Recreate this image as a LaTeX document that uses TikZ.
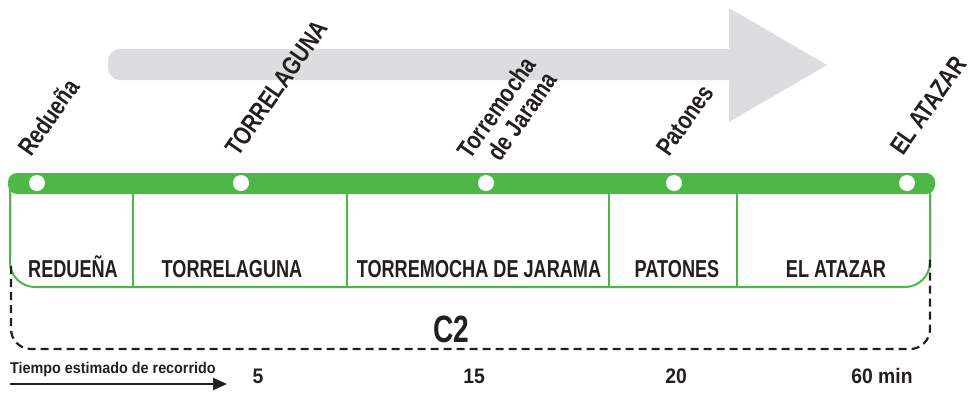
\documentclass[tikz,border=0pt]{standalone}
\usepackage{fontspec}
\setmainfont{Liberation Sans}
\newfontfamily\condfont[FakeStretch=0.74]{Liberation Sans}
\newfontfamily\stopfont[FakeStretch=0.8]{Liberation Sans}
\newfontfamily\narrowfont[FakeStretch=0.92]{Liberation Sans}
\usetikzlibrary{arrows.meta}
\definecolor{linegreen}{RGB}{77,184,72}
\definecolor{arrowgray}{RGB}{220,221,223}
\definecolor{inkdark}{RGB}{35,31,32}

\begin{document}
\begin{tikzpicture}[x=1pt,y=-1pt,
	stoplabel/.style={rotate=55,anchor=base west,inner sep=0pt,text=inkdark,font=\stopfont\bfseries\fontsize{25.5}{26}\selectfont},
	celllabel/.style={anchor=base,inner sep=0pt,text=inkdark,font=\condfont\bfseries\fontsize{24.5}{26}\selectfont},
	timelabel/.style={anchor=base,inner sep=0pt,text=inkdark,font=\narrowfont\bfseries\fontsize{21}{23}\selectfont}]
			%%%%% START %%%%%
			\useasboundingbox (0,0) rectangle (980,394);
			
			% direction arrow
			\fill[arrowgray] (729,49) [rounded corners=12pt] -- (108,49) -- (108,80) [sharp corners] -- (729,80) -- (729,122) -- (827,65) -- (729,8) -- cycle;
			
			% stops on the line
			\coordinate (redu) at (37,183);
			\coordinate (torr) at (241,183);
			\coordinate (tmoc) at (486,183);
			\coordinate (pato) at (674,183);
			\coordinate (ataz) at (907,183);
			
			% cells
			\draw[linegreen, line width=2pt, rounded corners=25pt] (10,188) -- (10,287) -- (930,287) -- (930,188);
			\foreach \x in {133,347,609,737}
				\draw[linegreen, line width=2pt] (\x,190) -- (\x,287);
			
			\fill[linegreen, rounded corners=9pt] (8,173) rectangle (935,194);
			\foreach \s in {redu,torr,tmoc,pato,ataz}
				\fill[white] (\s) circle (8pt);
			
			\node[stoplabel] (redulabel) at (31,158) {Redueña};
			\node[stoplabel] (torrlabel) at (238,158) {TORRELAGUNA};
			\node[stoplabel, anchor=south east, align=right] (tmoclabel) at (559,80) {Torremocha\\de Jarama};
			\node[stoplabel] (patolabel) at (669,158) {Patones};
			\node[stoplabel] (atazlabel) at (903,157) {EL ATAZAR};
			
			\node[celllabel] (reducell) at (73,277) {REDUEÑA};
			\node[celllabel] (torrcell) at (232,277) {TORRELAGUNA};
			\node[celllabel] (tmoccell) at (479,277) {TORREMOCHA DE JARAMA};
			\node[celllabel] (patocell) at (677,277) {PATONES};
			\node[celllabel] (atazcell) at (836,277) {EL ATAZAR};
			
			% route bracket
			\draw[inkdark, line width=2.2pt, dash pattern=on 8pt off 5pt, rounded corners=20pt] (11,266) -- (11,349) -- (930,349) -- (930,258);
			\node[anchor=base, inner sep=0pt, text=inkdark, font=\condfont\bfseries\fontsize{38}{40}\selectfont] (route) at (451,342) {C2};
			
			% travel time
			\node[anchor=base west, inner sep=0pt, text=inkdark, font=\narrowfont\bfseries\fontsize{15.6}{17}\selectfont] (tiempo) at (10,373) {Tiempo estimado de recorrido};
			\coordinate (tstart) at (10,384);
			\coordinate (tend) at (227,384);
			\draw[inkdark, line width=2.2pt, -{Triangle[length=14pt,width=12pt]}] (tstart) -- (tend);
			
			\node[timelabel] (t5) at (258,383) {5};
			\node[timelabel] (t15) at (474,383) {15};
			\node[timelabel] (t20) at (676,383) {20};
			\node[timelabel] (t60) at (882,383) {60 min};
			
			%%%%% END %%%%%
\end{tikzpicture}
\end{document}
